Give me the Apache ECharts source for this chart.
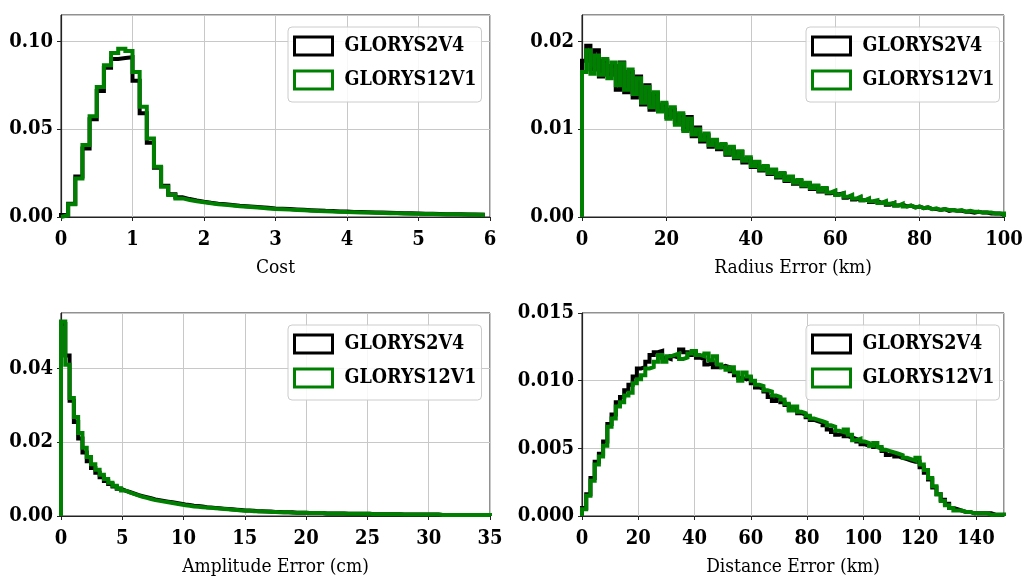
<!DOCTYPE html>
<html>
<head>
<meta charset="utf-8">
<script src="https://cdn.jsdelivr.net/npm/echarts@6/dist/echarts.min.js"></script>
<style>
  html, body { margin: 0; padding: 0; background: #fff; }
  #chart { width: 1031px; height: 579px; }
</style>
</head>
<body>
<div id="chart"></div>
<script>
// legend names
const names = ['GLORYS2V4', 'GLORYS12V1'];

// Cost, bins of 0.1
const costBin = 0.1;
const costG2 = [
  0.0012, 0.0075, 0.0230, 0.0390, 0.0556, 0.0718, 0.0850, 0.0900, 0.0905, 0.0910,
  0.0775, 0.0590, 0.0422, 0.0280, 0.0178, 0.0130, 0.0112, 0.0102, 0.0094, 0.0087,
  0.0081, 0.0076, 0.0072, 0.0068, 0.0064, 0.0061, 0.0058, 0.0055, 0.0052, 0.0049,
  0.0047, 0.0045, 0.0043, 0.0041, 0.0039, 0.0037, 0.0035, 0.0034, 0.0032, 0.0031,
  0.0029, 0.0028, 0.0027, 0.0026, 0.0025, 0.0024, 0.0023, 0.0022, 0.0021, 0.0020,
  0.0019, 0.0018, 0.0017, 0.0016, 0.0016, 0.0015, 0.0014, 0.0014, 0.0013
];
const costG12 = [
  0.0010, 0.0072, 0.0219, 0.0410, 0.0574, 0.0740, 0.0864, 0.0934, 0.0958, 0.0945,
  0.0826, 0.0627, 0.0447, 0.0286, 0.0172, 0.0125, 0.0106, 0.0097, 0.0090, 0.0084,
  0.0078, 0.0073, 0.0069, 0.0065, 0.0061, 0.0058, 0.0055, 0.0052, 0.0049, 0.0046,
  0.0044, 0.0042, 0.0040, 0.0038, 0.0036, 0.0034, 0.0033, 0.0031, 0.0030, 0.0028,
  0.0027, 0.0026, 0.0025, 0.0024, 0.0023, 0.0022, 0.0021, 0.0020, 0.0019, 0.0018,
  0.0017, 0.0017, 0.0016, 0.0015, 0.0015, 0.0014, 0.0014, 0.0013, 0.0013
];

// Radius error, bins of 1 km
const radiusBin = 1;
const radiusG2 = [
  0.0178, 0.0195, 0.0168, 0.0190, 0.0160, 0.0178, 0.0162, 0.0172, 0.0145, 0.0176,
  0.0142, 0.0165, 0.0136, 0.0160, 0.0128, 0.0150, 0.0122, 0.0140, 0.0122, 0.0128,
  0.0114, 0.0122, 0.0108, 0.0116, 0.0100, 0.0114, 0.0092, 0.0102, 0.0086, 0.0093,
  0.0080, 0.0087, 0.0077, 0.0082, 0.0071, 0.0078, 0.0067, 0.0074, 0.0062, 0.0066,
  0.0057, 0.0062, 0.0053, 0.0057, 0.0049, 0.0053, 0.0045, 0.0049, 0.0041, 0.0045,
  0.0038, 0.0041, 0.0035, 0.0038, 0.0032, 0.0035, 0.0029, 0.0032, 0.0027, 0.0029,
  0.0026, 0.0027, 0.0022, 0.0024, 0.0020, 0.0022, 0.0019, 0.0020, 0.0017, 0.0018,
  0.0016, 0.0017, 0.0014, 0.0016, 0.0013, 0.0014, 0.0012, 0.0013, 0.0011, 0.0012,
  0.0010, 0.0011, 0.0009, 0.0009, 0.0008, 0.0009, 0.0007, 0.0008, 0.0007, 0.0007,
  0.0006, 0.0006, 0.0005, 0.0006, 0.0005, 0.0005, 0.0004, 0.0004, 0.0004, 0.0003
];
const radiusG12 = [
  0.0165, 0.0190, 0.0163, 0.0184, 0.0162, 0.0180, 0.0158, 0.0176, 0.0150, 0.0175,
  0.0145, 0.0168, 0.0140, 0.0158, 0.0130, 0.0148, 0.0125, 0.0142, 0.0120, 0.0130,
  0.0112, 0.0125, 0.0105, 0.0118, 0.0098, 0.0112, 0.0094, 0.0100, 0.0088, 0.0095,
  0.0082, 0.0088, 0.0079, 0.0083, 0.0072, 0.0080, 0.0068, 0.0075, 0.0064, 0.0068,
  0.0058, 0.0063, 0.0054, 0.0058, 0.0050, 0.0054, 0.0046, 0.0050, 0.0042, 0.0046,
  0.0039, 0.0042, 0.0036, 0.0039, 0.0033, 0.0036, 0.0030, 0.0033, 0.0028, 0.0030,
  0.0025, 0.0027, 0.0023, 0.0025, 0.0021, 0.0023, 0.0019, 0.0021, 0.0018, 0.0019,
  0.0016, 0.0018, 0.0015, 0.0016, 0.0013, 0.0015, 0.0012, 0.0013, 0.0011, 0.0012,
  0.0010, 0.0011, 0.0009, 0.0010, 0.0008, 0.0009, 0.0008, 0.0008, 0.0007, 0.0008,
  0.0006, 0.0007, 0.0006, 0.0006, 0.0005, 0.0005, 0.0005, 0.0004, 0.0004, 0.0004
];

// Amplitude error, bins of 0.35 cm
const ampBin = 0.35;
const ampG2 = [
  0.0520, 0.0435, 0.0312, 0.0255, 0.0210, 0.0172, 0.0148, 0.0130, 0.0117, 0.0105,
  0.0095, 0.0087, 0.0080, 0.0074, 0.0069, 0.0065, 0.0061, 0.0057, 0.0054, 0.0051,
  0.0048, 0.0045, 0.0043, 0.0041, 0.0039, 0.0037, 0.0035, 0.0033, 0.0031, 0.0030,
  0.0028, 0.0027, 0.0026, 0.0024, 0.0023, 0.0022, 0.0021, 0.0020, 0.0019, 0.0018,
  0.0017, 0.0016, 0.0015, 0.0015, 0.0014, 0.0013, 0.0013, 0.0012, 0.0012, 0.0011,
  0.0011, 0.0010, 0.0010, 0.0010, 0.0009, 0.0009, 0.0009, 0.0008, 0.0008, 0.0008,
  0.0008, 0.0007, 0.0007, 0.0007, 0.0007, 0.0007, 0.0006, 0.0006, 0.0006, 0.0006,
  0.0006, 0.0006, 0.0005, 0.0005, 0.0005, 0.0005, 0.0005, 0.0005, 0.0005, 0.0004,
  0.0004, 0.0004, 0.0004, 0.0004, 0.0004, 0.0004, 0.0004, 0.0004, 0.0003, 0.0003,
  0.0003, 0.0003, 0.0003, 0.0003, 0.0003, 0.0003, 0.0003, 0.0003, 0.0003, 0.0003
];
const ampG12 = [
  0.0527, 0.0410, 0.0320, 0.0268, 0.0225, 0.0185, 0.0160, 0.0140, 0.0125, 0.0112,
  0.0100, 0.0090, 0.0082, 0.0075, 0.0069, 0.0064, 0.0060, 0.0056, 0.0052, 0.0049,
  0.0046, 0.0043, 0.0041, 0.0039, 0.0037, 0.0035, 0.0033, 0.0031, 0.0029, 0.0028,
  0.0026, 0.0025, 0.0024, 0.0023, 0.0022, 0.0021, 0.0020, 0.0019, 0.0018, 0.0017,
  0.0016, 0.0015, 0.0014, 0.0014, 0.0013, 0.0013, 0.0012, 0.0012, 0.0011, 0.0011,
  0.0010, 0.0010, 0.0010, 0.0009, 0.0009, 0.0009, 0.0009, 0.0008, 0.0008, 0.0008,
  0.0008, 0.0007, 0.0007, 0.0007, 0.0007, 0.0007, 0.0006, 0.0006, 0.0006, 0.0006,
  0.0006, 0.0006, 0.0005, 0.0005, 0.0005, 0.0005, 0.0005, 0.0005, 0.0005, 0.0004,
  0.0004, 0.0004, 0.0004, 0.0004, 0.0004, 0.0004, 0.0004, 0.0004, 0.0003, 0.0003,
  0.0003, 0.0003, 0.0003, 0.0003, 0.0003, 0.0003, 0.0003, 0.0003, 0.0003, 0.0003
];

// Distance error, bins of 1.5 km
const distBin = 1.5;
const distG2 = [
  0.0006, 0.0016, 0.0028, 0.0040, 0.0046, 0.0055, 0.0068, 0.0075, 0.0084, 0.0088,
  0.0093, 0.0097, 0.0103, 0.0109, 0.0110, 0.0114, 0.0119, 0.0121, 0.0122, 0.0117,
  0.0116, 0.0118, 0.0117, 0.0123, 0.0121, 0.0119, 0.0121, 0.0117, 0.0116, 0.0112,
  0.0113, 0.0110, 0.0110, 0.0111, 0.0110, 0.0107, 0.0104, 0.0102, 0.0101, 0.0102,
  0.0098, 0.0095, 0.0094, 0.0092, 0.0088, 0.0085, 0.0087, 0.0084, 0.0082, 0.0079,
  0.0078, 0.0076, 0.0075, 0.0073, 0.0071, 0.0070, 0.0069, 0.0067, 0.0064, 0.0062,
  0.0060, 0.0061, 0.0059, 0.0058, 0.0057, 0.0055, 0.0053, 0.0052, 0.0053, 0.0051,
  0.0050, 0.0048, 0.0045, 0.0046, 0.0044, 0.0043, 0.0042, 0.0041, 0.0040, 0.0040,
  0.0036, 0.0032, 0.0027, 0.0021, 0.0016, 0.0012, 0.0009, 0.0006, 0.0005, 0.0004,
  0.0003, 0.0003, 0.0002, 0.0002, 0.0002, 0.0002, 0.0002, 0.0001, 0.0001, 0.0001
];
const distG12 = [
  0.0005, 0.0015, 0.0026, 0.0038, 0.0044, 0.0052, 0.0066, 0.0072, 0.0081, 0.0084,
  0.0089, 0.0091, 0.0098, 0.0101, 0.0104, 0.0109, 0.0110, 0.0114, 0.0119, 0.0114,
  0.0118, 0.0119, 0.0120, 0.0116, 0.0117, 0.0120, 0.0122, 0.0119, 0.0118, 0.0120,
  0.0115, 0.0118, 0.0112, 0.0110, 0.0108, 0.0110, 0.0106, 0.0100, 0.0106, 0.0103,
  0.0100, 0.0097, 0.0096, 0.0093, 0.0092, 0.0089, 0.0088, 0.0086, 0.0083, 0.0078,
  0.0081, 0.0077, 0.0076, 0.0074, 0.0072, 0.0071, 0.0070, 0.0069, 0.0067, 0.0066,
  0.0063, 0.0062, 0.0064, 0.0060, 0.0056, 0.0057, 0.0055, 0.0054, 0.0052, 0.0054,
  0.0051, 0.0049, 0.0048, 0.0047, 0.0046, 0.0045, 0.0043, 0.0042, 0.0041, 0.0043,
  0.0038, 0.0034, 0.0028, 0.0022, 0.0016, 0.0011, 0.0008, 0.0006, 0.0004, 0.0004,
  0.0003, 0.0003, 0.0002, 0.0002, 0.0002, 0.0002, 0.0001, 0.0001, 0.0001, 0.0001
];

const serif = '"DejaVu Serif Condensed", "DejaVu Serif", serif';
const gridColor = '#c8c8c8';
const frameColor = '#222';

// histogram outline like matplotlib histtype="step"
function stepData(vals, w) {
  const pts = [[0, 0]];
  vals.forEach((v, i) => pts.push([i * w, v]));
  const end = vals.length * w;
  pts.push([end, vals[vals.length - 1]]);
  pts.push([end, 0]);
  return pts;
}

function xAxis(idx, max, interval, name, hideMax) {
  return {
    type: 'value', gridIndex: idx, min: 0, max: max, interval: interval,
    name: name, nameLocation: 'middle', nameGap: 42,
    nameTextStyle: { fontFamily: serif, fontSize: 19, color: '#000' },
    axisLine: { show: true, lineStyle: { color: frameColor, width: 1.2 } },
    axisTick: { show: true, inside: false, length: 4, lineStyle: { color: frameColor } },
    axisLabel: { fontFamily: serif, fontWeight: 'bold', fontSize: 20, color: '#000', margin: 13,
      showMaxLabel: !hideMax },
    splitLine: { show: true, lineStyle: { color: gridColor, width: 1 } }
  };
}

function yAxis(idx, max, interval, digits, hideMax) {
  return {
    type: 'value', gridIndex: idx, min: 0, max: max, interval: interval,
    axisLine: { show: true, lineStyle: { color: frameColor, width: 1.2 } },
    axisTick: { show: true, inside: false, length: 4, lineStyle: { color: frameColor } },
    axisLabel: { fontFamily: serif, fontWeight: 'bold', fontSize: 20, color: '#000', margin: 8,
      showMaxLabel: !hideMax, formatter: v => v.toFixed(digits) },
    splitLine: { show: true, lineStyle: { color: gridColor, width: 1 } }
  };
}

function legend(left, top) {
  return {
    left: left, top: top, orient: 'vertical',
    backgroundColor: 'rgba(255,255,255,0.85)', borderColor: '#cccccc', borderWidth: 1, borderRadius: 4,
    padding: [7, 5, 10, 5], itemGap: 10, itemWidth: 38, itemHeight: 18,
    textStyle: { fontFamily: serif, fontWeight: 'bold', fontSize: 19.5, color: '#000', lineHeight: 24,
      padding: [0, 0, 0, 7] },
    data: [
      { name: names[0], icon: 'rect', itemStyle: { color: '#fff', borderColor: '#000', borderWidth: 3 } },
      { name: names[1], icon: 'rect', itemStyle: { color: '#fff', borderColor: '#008000', borderWidth: 3 } }
    ]
  };
}

function series(idx, vals, w, name, color) {
  return {
    type: 'line', name: name, xAxisIndex: idx, yAxisIndex: idx,
    step: 'end', symbol: 'none', data: stepData(vals, w),
    lineStyle: { color: color, width: 4, join: 'miter' },
    itemStyle: { color: color }
  };
}

const chart = echarts.init(document.getElementById('chart'), null, { renderer: 'canvas' });
chart.setOption({
  animation: false,
  backgroundColor: '#fff',
  grid: [
    { left: 61, top: 15, right: 541, bottom: 362, show: true, borderColor: frameColor, borderWidth: 1 },
    { left: 582, top: 15, right: 27, bottom: 362, show: true, borderColor: frameColor, borderWidth: 1 },
    { left: 61, top: 313, right: 541, bottom: 63, show: true, borderColor: frameColor, borderWidth: 1 },
    { left: 582, top: 313, right: 27, bottom: 63, show: true, borderColor: frameColor, borderWidth: 1 }
  ],
  xAxis: [
    xAxis(0, 6, 1, 'Cost', false),
    xAxis(1, 100, 20, 'Radius Error (km)', false),
    xAxis(2, 35, 5, 'Amplitude Error (cm)', false),
    xAxis(3, 150, 20, 'Distance Error (km)', true)
  ],
  yAxis: [
    yAxis(0, 0.115, 0.05, 2, true),
    yAxis(1, 0.023, 0.01, 2, true),
    yAxis(2, 0.055, 0.02, 2, true),
    yAxis(3, 0.015, 0.005, 3, false)
  ],
  legend: [legend(288, 27), legend(806, 27), legend(288, 325), legend(806, 325)],
  series: [
    series(0, costG2, costBin, names[0], '#000'),
    series(0, costG12, costBin, names[1], '#008000'),
    series(1, radiusG2, radiusBin, names[0], '#000'),
    series(1, radiusG12, radiusBin, names[1], '#008000'),
    series(2, ampG2, ampBin, names[0], '#000'),
    series(2, ampG12, ampBin, names[1], '#008000'),
    series(3, distG2, distBin, names[0], '#000'),
    series(3, distG12, distBin, names[1], '#008000')
  ]
});

window.addEventListener('resize', () => {
  if (chart) {
    chart.resize();
  }
});
</script>
</body>
</html>
